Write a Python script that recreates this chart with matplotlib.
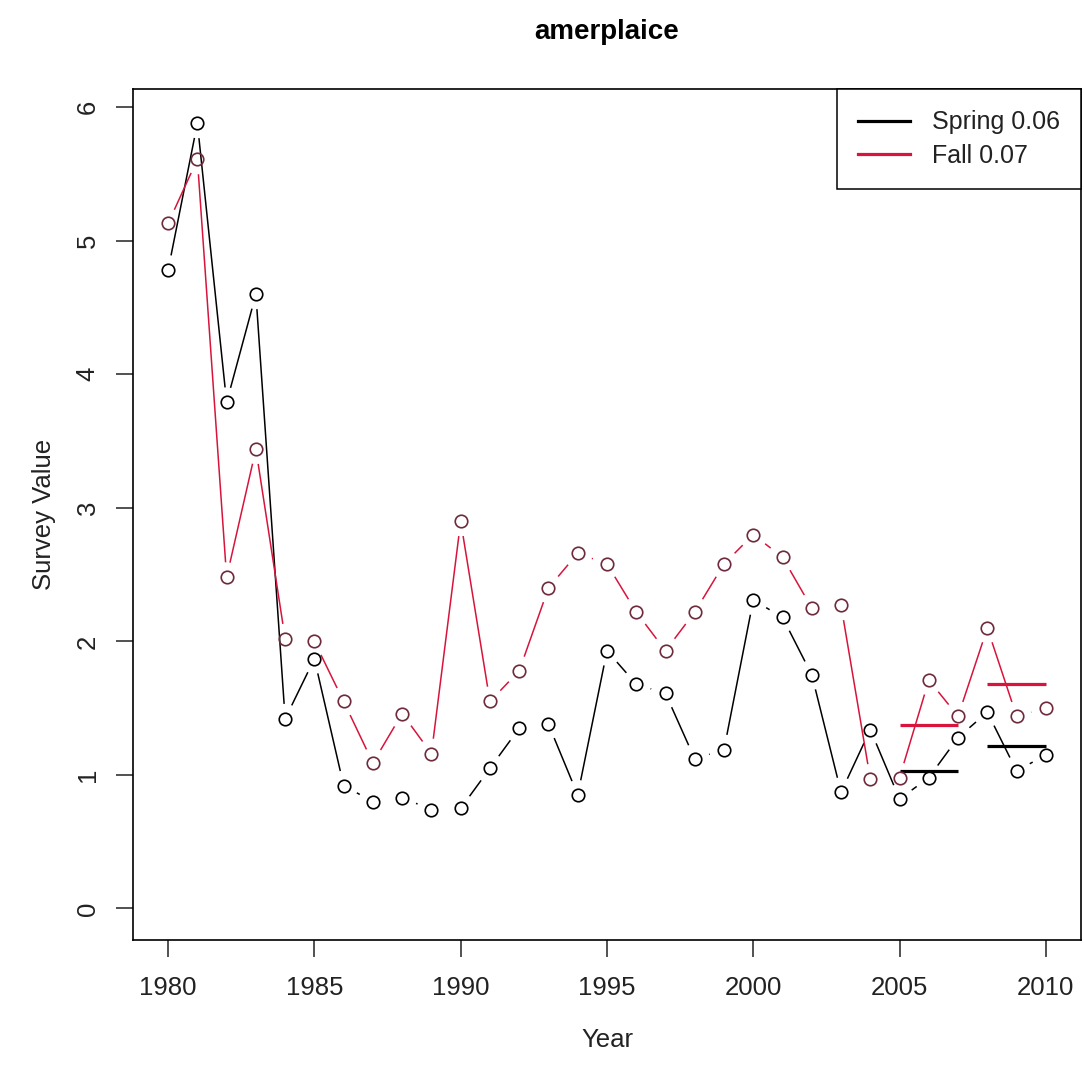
import matplotlib
matplotlib.use('Agg')
import matplotlib.pyplot as plt
from matplotlib.lines import Line2D
import numpy as np

plt.rcParams['font.family'] = ['Liberation Sans', 'DejaVu Sans']

# ---------------------------------------------------------------------------
# Survey index values
# ---------------------------------------------------------------------------
years = list(range(1980, 2011))
spring = [4.78, 5.88, 3.79, 4.60, 1.42, 1.87, 0.92, 0.80, 0.83, 0.74,
          0.75, 1.05, 1.35, 1.38, 0.85, 1.93, 1.68, 1.61, 1.12, 1.19,
          2.31, 2.18, 1.75, 0.87, 1.34, 0.82, 0.98, 1.28, 1.47, 1.03,
          1.15]
fall = [5.13, 5.61, 2.48, 3.44, 2.02, 2.00, 1.55, 1.09, 1.46, 1.16,
        2.90, 1.55, 1.78, 2.40, 2.66, 2.58, 2.22, 1.93, 2.22, 2.58,
        2.80, 2.63, 2.25, 2.27, 0.97, 0.98, 1.71, 1.44, 2.10, 1.44,
        1.50]
# three-year blocks used for the mean bars
mean_blocks = [(2005, 2007), (2008, 2010)]
legend_labels = ['Spring 0.06', 'Fall 0.07']

RED = '#d8143c'
FALL_PT = '#6e2a3a'
INK = '#222222'
GAP_PX = 15.0


def gapped_lines(ax, xs, ys, color, lw):
    """R type='b' style: segments between points, cut back around each point."""
    pts = ax.transData.transform(np.column_stack([xs, ys]))
    inv = ax.transData.inverted()
    for (x0, y0), (x1, y1) in zip(pts[:-1], pts[1:]):
        d = np.hypot(x1 - x0, y1 - y0)
        if d <= 2 * GAP_PX:
            continue
        ux, uy = (x1 - x0) / d, (y1 - y0) / d
        a = inv.transform((x0 + ux * GAP_PX, y0 + uy * GAP_PX))
        b = inv.transform((x1 - ux * GAP_PX, y1 - uy * GAP_PX))
        ax.plot([a[0], b[0]], [a[1], b[1]], color=color, lw=lw,
                solid_capstyle='butt', zorder=2)


def block_means(xs, ys):
    xs = np.asarray(xs)
    ys = np.asarray(ys)
    out = []
    for lo, hi in mean_blocks:
        sel = (xs >= lo) & (xs <= hi)
        out.append((lo, hi, ys[sel].mean()))
    return out


fig = plt.figure(figsize=(10.84, 10.78), dpi=100)
ax = fig.add_axes([0.1227, 0.128, 0.8745, 0.7894])
ax.set_xlim(1978.8, 2011.2)
ax.set_ylim(-0.236, 6.136)

gapped_lines(ax, years, spring, 'black', 1.1)
gapped_lines(ax, years, fall, RED, 1.1)

ax.plot(years, spring, 'o', ms=9, mfc='none', mec='black', mew=1.2, zorder=3)
ax.plot(years, fall, 'o', ms=9, mfc='none', mec=FALL_PT, mew=1.2, zorder=3)

for lo, hi, m in block_means(years, spring):
    ax.plot([lo, hi], [m, m], color='black', lw=2.3, solid_capstyle='butt', zorder=2)
for lo, hi, m in block_means(years, fall):
    ax.plot([lo, hi], [m, m], color=RED, lw=2.3, solid_capstyle='butt', zorder=2)

ax.set_xticks([1980, 1985, 1990, 1995, 2000, 2005, 2010])
ax.set_yticks([0, 1, 2, 3, 4, 5, 6])
ax.tick_params(axis='both', labelsize=18.5, length=12, width=1.1, color=INK,
               labelcolor=INK)
ax.tick_params(axis='x', pad=14)
ax.tick_params(axis='y', pad=12)
for lab in ax.get_yticklabels():
    lab.set_rotation(90)
    lab.set_va('center')
for s in ax.spines.values():
    s.set_linewidth(1.2)

ax.set_xlabel('Year', fontsize=18.5, color=INK, labelpad=20)
ax.set_ylabel('Survey Value', fontsize=18.5, color=INK, labelpad=14)
ax.set_title('amerplaice', fontsize=20, fontweight='bold', pad=36)

handles = [Line2D([], [], color='black', lw=2.3),
           Line2D([], [], color=RED, lw=2.3)]
leg = ax.legend(handles, legend_labels, loc='upper right', fontsize=18,
                frameon=True, fancybox=False, edgecolor='black', framealpha=1,
                borderaxespad=0, handlelength=2.1, handletextpad=0.85,
                borderpad=0.85, labelspacing=0.38)
leg.get_frame().set_linewidth(1.1)
for t in leg.get_texts():
    t.set_color(INK)

fig.savefig('out.png', dpi=100)
